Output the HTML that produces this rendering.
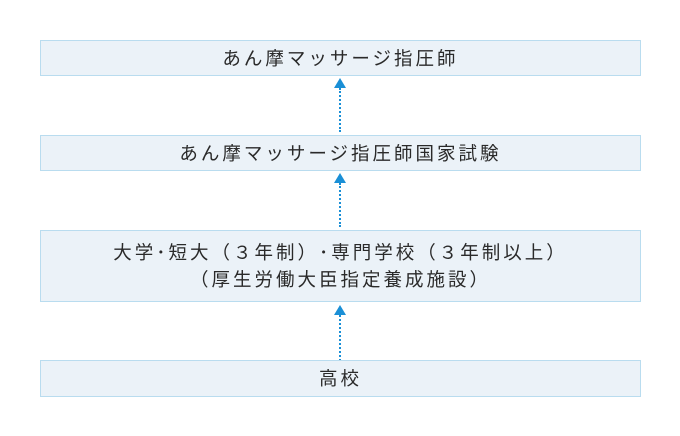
<!DOCTYPE html>
<html><head><meta charset="utf-8"><style>
body{margin:0;width:680px;height:436px;background:#fff;position:relative;font-family:"Liberation Sans","Noto Sans CJK JP",sans-serif;color:#2a2a2a;}
.b{position:absolute;left:40px;width:599px;background:#ebf2f8;border:1px solid #b9dcef;display:flex;flex-direction:column;align-items:center;justify-content:center;font-size:18.5px;letter-spacing:3px;line-height:27px;}
.a{position:absolute;left:334px;width:12px;}
.t{width:0;height:0;border-left:6px solid transparent;border-right:6px solid transparent;border-bottom:10px solid #1a8fd6;}
.d{margin-left:5px;width:0;border-left:2px dotted #1a8fd6;}
</style></head><body>
<div class="b" style="top:40px;height:34px">あん摩マッサージ指圧師</div>
<div class="a" style="top:78px"><div class="t"></div><div class="d" style="height:44px"></div></div>
<div class="b" style="top:135px;height:34px">あん摩マッサージ指圧師国家試験</div>
<div class="a" style="top:173px"><div class="t"></div><div class="d" style="height:44px"></div></div>
<div class="b" style="top:230px;height:70px"><div>大学･短大（３年制）･専門学校（３年制以上）</div><div>（厚生労働大臣指定養成施設）</div></div>
<div class="a" style="top:305px"><div class="t"></div><div class="d" style="height:46px"></div></div>
<div class="b" style="top:360px;height:35px">高校</div>
</body></html>
